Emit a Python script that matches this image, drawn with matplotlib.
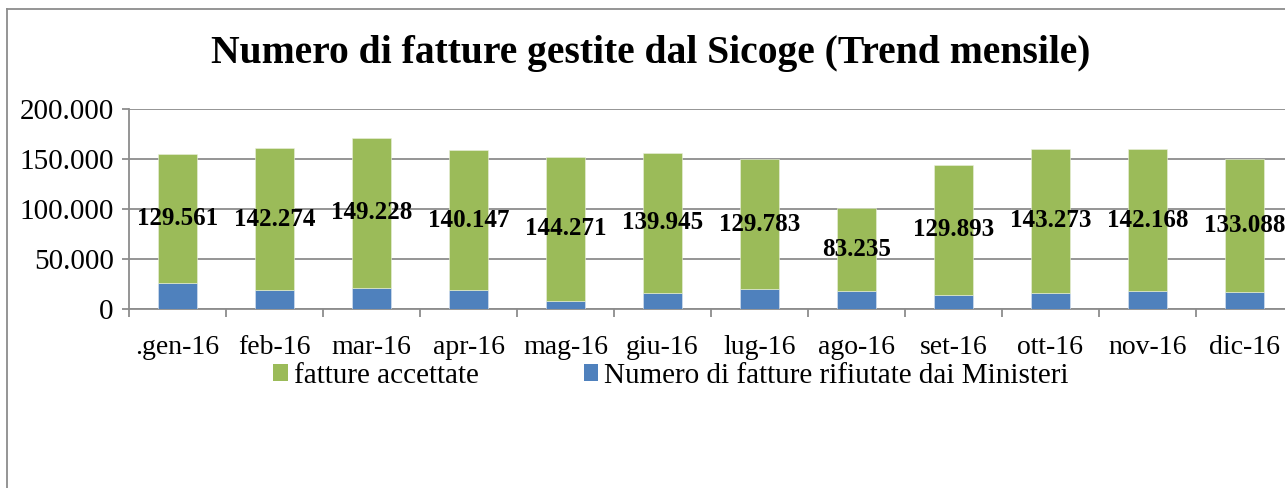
import matplotlib
matplotlib.use("Agg")
import matplotlib.pyplot as plt
from matplotlib.lines import Line2D
from matplotlib.patches import Patch
import numpy as np

# monthly invoices handled by Sicoge (2016)
months = [".gen-16", "feb-16", "mar-16", "apr-16", "mag-16", "giu-16",
          "lug-16", "ago-16", "set-16", "ott-16", "nov-16", "dic-16"]
accettate = [129561, 142274, 149228, 140147, 144271, 139945,
             129783, 83235, 129893, 143273, 142168, 133088]
rifiutate = [25700, 18700, 21400, 18900, 8000, 16500,
             19800, 17800, 14200, 16500, 17900, 17300]
y_ticks = [0, 50000, 100000, 150000, 200000]
y_tick_labels = ["0", "50.000", "100.000", "150.000", "200.000"]

GREEN = "#9BBB59"
BLUE = "#4F81BD"
GRID = "#8C8C8C"

plt.rcParams["font.family"] = ["Liberation Serif", "DejaVu Serif"]

W, H = 1285, 488
fig = plt.figure(figsize=(W / 100, H / 100), dpi=100)

# plot area in pixels: y axis at x=129, 97 px per month, 0 at y=309, 200k at y=109
ax = fig.add_axes([129 / W, 1 - 309 / H, 12 * 97 / W, 200 / H])

x = np.arange(len(months))
ax.bar(x, rifiutate, width=0.40, color=BLUE, edgecolor="#dce6f2", linewidth=0.4, zorder=3)
ax.bar(x, accettate, width=0.40, bottom=rifiutate, color=GREEN,
       edgecolor="#ebf1de", linewidth=0.4, zorder=3)

for xi, b, a in zip(x, rifiutate, accettate):
    ax.text(xi, b + a / 2, f"{a:,}".replace(",", "."), ha="center", va="center",
            fontsize=18, fontweight="bold", color="black", zorder=4)

ax.set_xlim(-0.5, len(months) - 0.5)
ax.set_ylim(0, 200000)
ax.set_yticks(y_ticks)
ax.set_yticklabels(y_tick_labels, fontsize=21)
ax.yaxis.grid(True, color=GRID, linewidth=1.3, zorder=0)
ax.set_axisbelow(True)

# tick marks on category boundaries, labels in the middle
ax.set_xticks(np.arange(len(months) + 1) - 0.5)
ax.set_xticklabels([])
ax.set_xticks(x, minor=True)
ax.set_xticklabels(months, minor=True, fontsize=20)
ax.tick_params(axis="x", which="major", length=6, width=1.3, color=GRID)
ax.tick_params(axis="x", which="minor", length=0, pad=19)
ax.tick_params(axis="y", length=5, width=1.3, color=GRID, pad=6)

for side in ["top", "right"]:
    ax.spines[side].set_visible(False)
for side in ["left", "bottom"]:
    ax.spines[side].set_color(GRID)
    ax.spines[side].set_linewidth(1.3)

fig.text(651 / W, 1 - 53 / H, "Numero di fatture gestite dal Sicoge (Trend mensile)",
         ha="center", va="center", fontsize=28.5, fontweight="bold")

handles = [Patch(facecolor=GREEN, label="fatture accettate"),
           Patch(facecolor=BLUE, label="Numero di fatture rifiutate dai Ministeri")]
fig.legend(handles=handles, loc="center", bbox_to_anchor=(671 / W, 1 - 376 / H),
           ncol=2, frameon=False, fontsize=21, handlelength=0.5, handleheight=0.5,
           handletextpad=0.2, columnspacing=3.6)

# chart frame (only top and left edges visible in the crop)
fig.add_artist(Line2D([7 / W, 1], [1 - 9 / H, 1 - 9 / H], color=GRID, linewidth=1.3))
fig.add_artist(Line2D([7 / W, 7 / W], [0, 1 - 9 / H], color=GRID, linewidth=1.3))

fig.savefig("out.png", dpi=100)
